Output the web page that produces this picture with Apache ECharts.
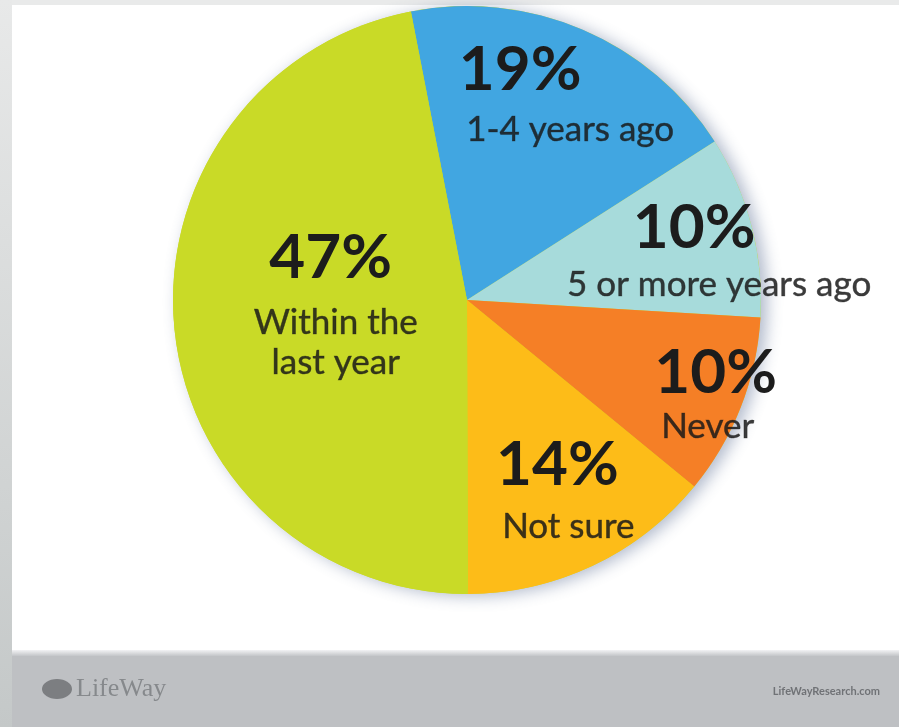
<!DOCTYPE html>
<html><head><meta charset="utf-8">
<script src="https://cdn.jsdelivr.net/npm/echarts@6/dist/echarts.min.js"></script>
<style>html,body{margin:0;padding:0;background:#fff}#c{width:899px;height:727px}</style>
</head><body><div id="c"></div>
<script>
// ---- data ----
const categories = ['1-4 years ago', '5 or more years ago', 'Never', 'Not sure', 'Within the\nlast year'];
const values = [19, 10, 10, 14, 47];
const sliceColors = ['#41a6e1', '#a7dbdb', '#f57f26', '#fdbc18', '#c9da27'];

// ---- label nudges (relative to library's inside-label anchor) ----
const pctOffsets = [[-6, -92], [82, -34], [109, 18], [26, 29], [13, -57]];
const nameOffsets = [[44, -32], [107, 23], [101, 72], [37, 91], [18, 28]];

const CENTER = [467, 300];
const RADIUS = 294;
const total = values.reduce((a, b) => a + b, 0);

const chart = echarts.init(document.getElementById('c'), null, {renderer: 'canvas'});

const sliceData = categories.map((name, i) => ({
  name: name, value: values[i], itemStyle: {color: sliceColors[i]}
}));

chart.setOption({
  animation: false,
  backgroundColor: '#ffffff',
  graphic: [
    {type: 'rect', z: 0, shape: {x: 0, y: 0, width: 899, height: 5}, style: {fill: '#e9eaea'}},
    {type: 'rect', z: 0, shape: {x: 0, y: 0, width: 12, height: 727},
      style: {fill: new echarts.graphic.LinearGradient(0, 0, 0, 1, [
        {offset: 0, color: '#e8e9e9'}, {offset: 1, color: '#c4c8c8'}])}},
    {type: 'rect', z: 0, shape: {x: 12, y: 650, width: 887, height: 6},
      style: {fill: new echarts.graphic.LinearGradient(0, 0, 0, 1, [
        {offset: 0, color: '#f2f2f4'}, {offset: 1, color: '#c3c5c8'}])}},
    {type: 'rect', z: 0, shape: {x: 12, y: 656, width: 887, height: 71}, style: {fill: '#bec0c3'}},
    {type: 'ellipse', z: 1, shape: {cx: 57, cy: 689, rx: 15, ry: 10}, style: {fill: '#6b6d70', opacity: 0.8}},
    {type: 'text', z: 1, x: 76, y: 689, style: {text: 'LifeWay', font: '26px "Liberation Serif", serif',
      fill: '#7d7f83', verticalAlign: 'middle', opacity: 0.85}},
    {type: 'text', z: 1, x: 880, y: 691, style: {text: 'LifeWayResearch.com', font: 'bold 11px Lato, sans-serif',
      fill: '#707276', align: 'right', verticalAlign: 'middle'}}
  ],
  series: [
    {
      type: 'pie', z: 1, silent: true, center: CENTER, radius: RADIUS,
      label: {show: false}, labelLine: {show: false},
      emphasis: {disabled: true},
      itemStyle: {color: '#c9da27', shadowBlur: 16, shadowColor: 'rgba(80,100,140,0.45)', shadowOffsetX: 6, shadowOffsetY: 2},
      data: [{name: 'all', value: total}]
    },
    {
      type: 'pie', z: 2, center: CENTER, radius: RADIUS, startAngle: 101, clockwise: true,
      emphasis: {disabled: true},
      itemStyle: {borderWidth: 0},
      labelLine: {show: false},
      label: {
        show: true, position: 'inside',
        formatter: p => p.value + '%',
        fontFamily: 'Lato', fontWeight: 'bold', fontSize: 62, color: '#1c1c1c'
      },
      labelLayout: p => ({dx: pctOffsets[p.dataIndex][0], dy: pctOffsets[p.dataIndex][1]}),
      data: sliceData
    },
    {
      type: 'pie', z: 3, silent: true, center: CENTER, radius: RADIUS, startAngle: 101, clockwise: true,
      emphasis: {disabled: true},
      itemStyle: {color: 'rgba(0,0,0,0)', borderWidth: 0},
      labelLine: {show: false},
      label: {
        show: true, position: 'inside',
        formatter: p => p.name,
        fontFamily: 'Lato', fontSize: 35, lineHeight: 40, color: 'rgba(25,25,25,0.85)',
        textBorderColor: 'rgba(25,25,25,0.6)', textBorderWidth: 0.6
      },
      labelLayout: p => ({dx: nameOffsets[p.dataIndex][0], dy: nameOffsets[p.dataIndex][1]}),
      data: categories.map((name, i) => ({name: name, value: values[i]}))
    }
  ]
});
</script>
</body></html>
